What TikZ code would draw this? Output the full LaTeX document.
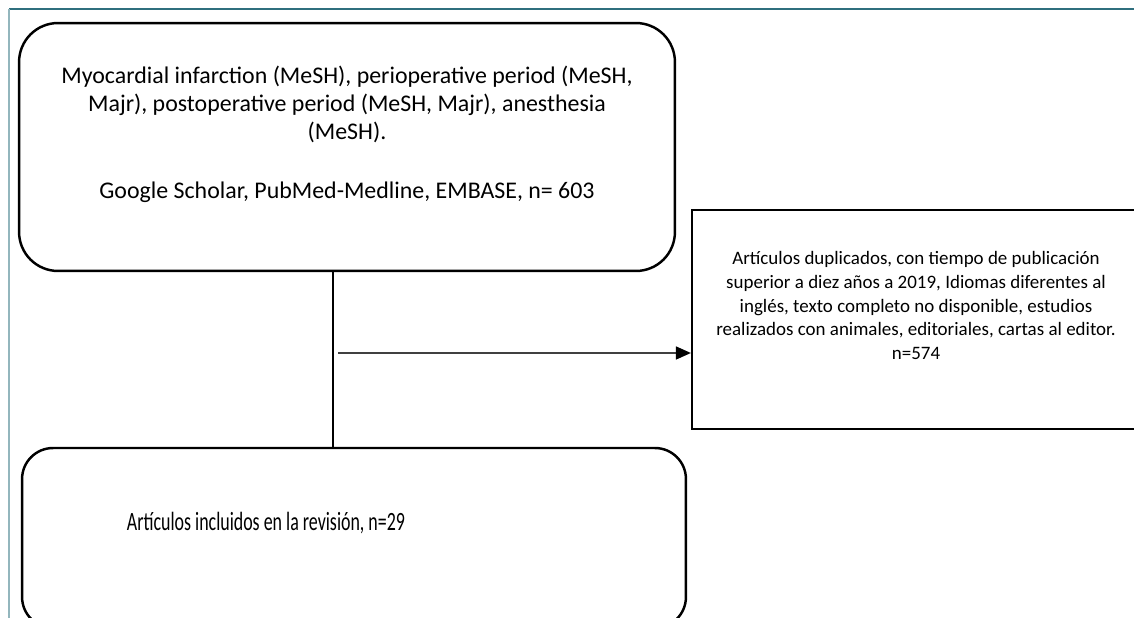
\documentclass[tikz,border=0pt]{standalone}
\usepackage{fontspec}
\setmainfont{Carlito}
\newfontfamily\narrowfont[FakeStretch=0.68]{Carlito}
\usepackage{tikz}
\usetikzlibrary{arrows.meta,positioning}
\definecolor{frametop}{HTML}{2F6F7E}
\definecolor{frameleft}{HTML}{93B6BD}
\definecolor{arrowgray}{HTML}{404040}

\begin{document}
\begin{tikzpicture}[>={Triangle[length=0.3cm,width=0.26cm,color=black]},x=0.02cm,y=-0.02cm,
  roundbox/.style={draw,line width=1.4pt,rounded corners=0.78cm,align=center,
    font=\fontsize{13.6}{15.9}\selectfont},
  plainbox/.style={draw,line width=1.3pt,align=center,
    font=\fontsize{10.8}{13.4}\selectfont}]
  \useasboundingbox (0,0) rectangle (1134,618);
  \clip (0,0) rectangle (1134,618);
  \draw[frametop,line width=1.2pt] (9,9) -- (1134,9);
  \draw[frameleft,line width=1.2pt] (9,9) -- (9,618);
  \node[roundbox,minimum width=13.12cm,minimum height=4.96cm] (search) at (347,147)
    {Myocardial infarction (MeSH), perioperative period (MeSH,\\
     Majr), postoperative period (MeSH, Majr), anesthesia\\
     (MeSH).\\[0.62cm]
     Google Scholar, PubMed-Medline, EMBASE, n= 603\\[0.02cm]};
  \node[plainbox,minimum width=8.96cm,minimum height=4.38cm] (excluded) at (916,319.5)
    {Artículos duplicados, con tiempo de publicación\\
     superior a diez años a 2019, Idiomas diferentes al\\
     inglés, texto completo no disponible, estudios\\
     realizados con animales, editoriales, cartas al editor.\\
     n=574\\[0.09cm]};
  \node[roundbox,rounded corners=0.62cm,font=\narrowfont\fontsize{15}{17}\selectfont,
    minimum width=13.28cm,minimum height=3.6cm] (included) at (354,538)
    {\hspace*{-3.52cm}Artículos incluidos en la revisión, n=29\\[0.05cm]};
  \coordinate (split) at (333,353);
  \draw[line width=1.4pt] (search.south -| split) -- (included.north -| split);
  \draw[->,arrowgray,line width=0.9pt] ([xshift=0.1cm]split) -- (excluded.west |- split);
\end{tikzpicture}
\end{document}
